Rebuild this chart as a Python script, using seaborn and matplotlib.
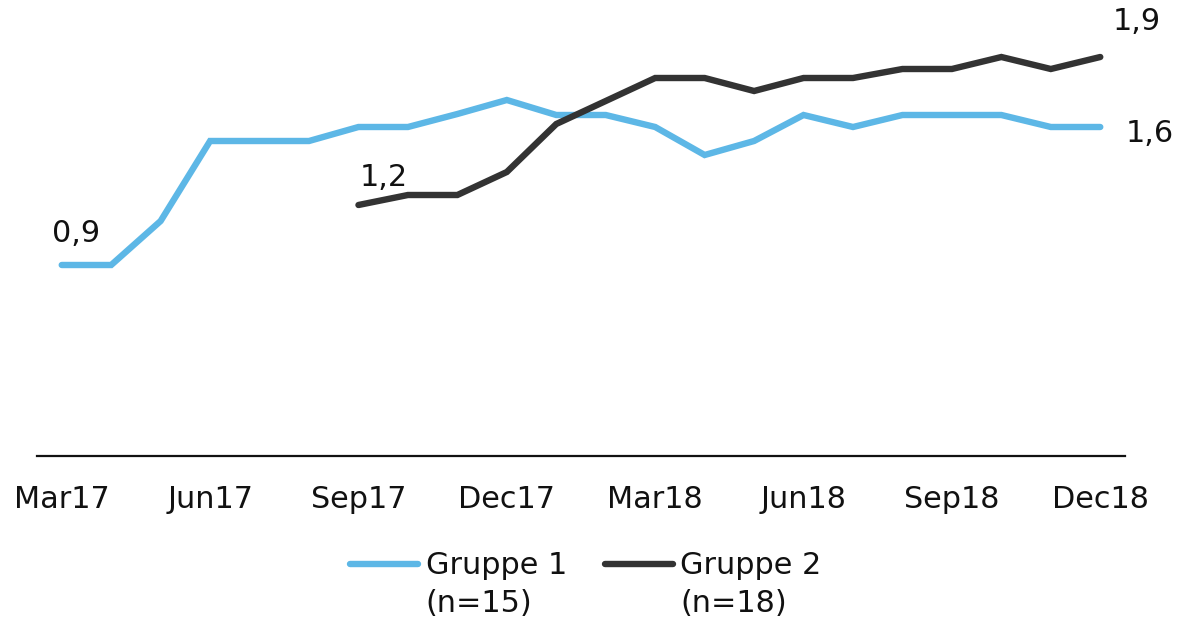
import numpy as np
import pandas as pd
import matplotlib
matplotlib.use("Agg")
import matplotlib.pyplot as plt
import seaborn as sns
from matplotlib.lines import Line2D

months = ["Mar17", "Apr17", "May17", "Jun17", "Jul17", "Aug17", "Sep17", "Oct17",
          "Nov17", "Dec17", "Jan18", "Feb18", "Mar18", "Apr18", "May18", "Jun18",
          "Jul18", "Aug18", "Sep18", "Oct18", "Nov18", "Dec18"]
gruppe1 = [0.90, 0.90, 1.12, 1.52, 1.52, 1.52, 1.59, 1.59, 1.655, 1.725, 1.65, 1.65,
           1.59, 1.45, 1.52, 1.65, 1.59, 1.65, 1.65, 1.65, 1.59, 1.59]
gruppe2 = [None, None, None, None, None, None, 1.20, 1.25, 1.25, 1.365, 1.605, 1.72,
           1.835, 1.835, 1.77, 1.835, 1.835, 1.88, 1.88, 1.94, 1.88, 1.94]
tick_labels = ["Mar17", "Jun17", "Sep17", "Dec17", "Mar18", "Jun18", "Sep18", "Dec18"]
series_names = ["Gruppe 1", "Gruppe 2"]
series_sub = ["(n=15)", "(n=18)"]
colors = ["#5DB7E6", "#333333"]

rows = []
for i, m in enumerate(months):
    rows.append({"idx": i, "month": m, "value": gruppe1[i], "group": series_names[0]})
    if gruppe2[i] is not None:
        rows.append({"idx": i, "month": m, "value": gruppe2[i], "group": series_names[1]})
df = pd.DataFrame(rows)

sns.set_style("white")
plt.rcParams["font.family"] = ["DejaVu Sans"]
FS = 21.8

fig = plt.figure(figsize=(11.95, 6.19), dpi=100)
ax = fig.add_axes([37 / 1195, 1 - 456 / 619, (1125 - 37) / 1195, (456 - 20) / 619])

sns.lineplot(data=df, x="idx", y="value", hue="group", palette=dict(zip(series_names, colors)),
             linewidth=4.6, ax=ax, legend=False, solid_capstyle="round", solid_joinstyle="miter")

ax.set_xlim(-0.5, 21.5)
ax.set_ylim(-0.055, 2.125)
ax.set_xlabel("")
ax.set_ylabel("")
ax.set_yticks([])
tick_pos = [months.index(t) for t in tick_labels]
ax.set_xticks(tick_pos)
ax.set_xticklabels(tick_labels, fontsize=FS, color="#111111")
ax.tick_params(axis="x", length=0, pad=21)
for s in ["top", "right", "left"]:
    ax.spines[s].set_visible(False)
ax.spines["bottom"].set_color("#111111")
ax.spines["bottom"].set_linewidth(1.6)
ax.grid(False)

# value labels
first2 = next(i for i, v in enumerate(gruppe2) if v is not None)
ann = [
    (0, gruppe1[0], (-10, 32)),
    (first2, gruppe2[first2], (1, 27)),
    (len(months) - 1, gruppe2[-1], (12, 35)),
    (len(months) - 1, gruppe1[-1], (25, -7)),
]
for x, v, off in ann:
    ax.annotate(f"{v:.1f}".replace(".", ","), xy=(x, v), xytext=off, textcoords="offset pixels",
                ha="left", va="center", fontsize=FS, color="#111111")

# legend
handles = [Line2D([0], [0], color=c, linewidth=4.6, solid_capstyle="round") for c in colors]
leg = fig.legend(handles, series_names, loc="center left", bbox_to_anchor=(350 / 1195, 1 - 566 / 619),
                 ncol=2, frameon=False, fontsize=FS, handlelength=2.25, handletextpad=0.25,
                 columnspacing=1.25, borderaxespad=0, borderpad=0)
for t in leg.get_texts():
    t.set_color("#111111")
fig.canvas.draw()
renderer = fig.canvas.get_renderer()
for t, sub in zip(leg.get_texts(), series_sub):
    bb = t.get_window_extent(renderer)
    fig.text(bb.x0 / fig.bbox.width, (bb.y0 - 37 + (bb.y1 - bb.y0) / 2) / fig.bbox.height, sub,
             ha="left", va="center", fontsize=FS, color="#111111")

fig.savefig("out.png", dpi=100)
